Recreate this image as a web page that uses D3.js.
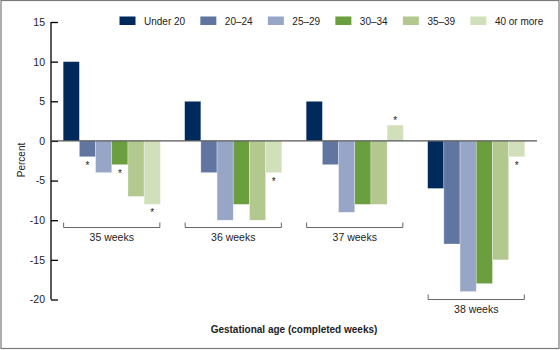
<!DOCTYPE html>
<html>
<head>
<meta charset="utf-8">
<script src="https://cdn.jsdelivr.net/npm/d3@7"></script>
<style>
  body { margin: 0; background: #fff; }
  svg text { font-family: "Liberation Sans", Arial, sans-serif; }
</style>
</head>
<body>
<div id="chart"></div>
<script>
// Data
const weeks = ["35 weeks", "36 weeks", "37 weeks", "38 weeks"];
const ageGroups = ["Under 20", "20\u201324", "25\u201329", "30\u201334", "35\u201339", "40 or more"];
const colors = ["#002a5c", "#6076a1", "#97a6c6", "#6b9e3e", "#b2c88e", "#d1dfbb"];
// percent change, one row per gestational week, columns follow ageGroups
const values = [
  [10, -2, -4, -3, -7, -8],
  [5, -4, -10, -8, -10, -4],
  [5, -3, -9, -8, -8, 2],
  [-6, -13, -19, -18, -15, -2]
];
// bars flagged with an asterisk
const starred = [
  [false, true, false, true, false, true],
  [false, false, false, false, false, true],
  [false, false, false, false, false, true],
  [false, false, false, false, false, true]
];
const yTicks = [15, 10, 5, 0, -5, -10, -15, -20];
// value at which each bracket sits
const bracketLevel = [-10, -10, -10, -19];

const W = 560, H = 350;
const svg = d3.select("#chart").append("svg")
  .attr("width", W).attr("height", H);

// frame
svg.append("rect")
  .attr("x", 1).attr("y", 0.5).attr("width", W - 2).attr("height", H - 2)
  .attr("fill", "none").attr("stroke", "#7a7a7a").attr("stroke-width", 1.2);

const left = 51, right = 537;
const y = d3.scaleLinear().domain([-20, 15]).range([299.5, 22]);
const x0 = d3.scaleBand().domain(weeks).range([left, right])
  .paddingInner(0.2).paddingOuter(0.1);
const x1 = d3.scaleBand().domain(ageGroups).range([0, x0.bandwidth()]);

// y axis
const yAxis = d3.axisRight(y).tickValues(yTicks).tickSize(7).tickFormat(d3.format("d"));
const ga = svg.append("g").attr("transform", `translate(${left},0)`).call(yAxis);
ga.select(".domain").attr("d", `M0,${y(15)}V${y(-20)}`).attr("stroke", "#000").attr("stroke-width", 1.3);
ga.selectAll(".tick line").attr("stroke", "#000").attr("stroke-width", 1.3);
ga.selectAll(".tick text")
  .attr("x", -6).attr("text-anchor", "end")
  .attr("font-size", 10.5).attr("fill", "#222")
  .text(d => d < 0 ? "-" + Math.abs(d) : d);

svg.append("text")
  .attr("transform", `translate(25,160) rotate(-90)`)
  .attr("text-anchor", "middle").attr("font-size", 10).attr("fill", "#222")
  .text("Percent");

// bars
const groups = svg.selectAll(".grp").data(weeks).enter().append("g")
  .attr("class", "grp")
  .attr("transform", d => `translate(${x0(d)},0)`);

groups.selectAll("rect")
  .data((w, i) => values[i].map((v, j) => ({ v: v, j: j, star: starred[i][j] })))
  .enter().append("rect")
  .attr("x", d => x1(ageGroups[d.j]))
  .attr("y", d => y(Math.max(0, d.v)))
  .attr("width", x1.bandwidth())
  .attr("height", d => Math.abs(y(d.v) - y(0)))
  .attr("fill", d => colors[d.j])
  .attr("stroke", "#fff").attr("stroke-opacity", 0.5).attr("stroke-width", 0.6);

groups.selectAll(".star")
  .data((w, i) => values[i].map((v, j) => ({ v: v, j: j, star: starred[i][j] })).filter(d => d.star))
  .enter().append("text")
  .attr("class", "star")
  .attr("x", d => x1(ageGroups[d.j]) + x1.bandwidth() / 2)
  .attr("y", d => d.v < 0 ? y(d.v) + 12 : y(d.v) - 1)
  .attr("text-anchor", "middle").attr("font-size", 10).attr("fill", "#222")
  .text("*");

// zero line
svg.append("line")
  .attr("x1", left).attr("x2", right)
  .attr("y1", y(0)).attr("y2", y(0))
  .attr("stroke", "#555").attr("stroke-width", 1.3);

// brackets + week labels
groups.each(function (w, i) {
  const g = d3.select(this);
  const by = Math.round(y(bracketLevel[i])) + 7.5;
  const bw = x0.bandwidth();
  g.append("path")
    .attr("d", `M0.5,${by - 5}V${by}H${bw - 0.5}V${by - 5}`)
    .attr("fill", "none").attr("stroke", "#666").attr("stroke-width", 1);
  g.append("text")
    .attr("x", bw / 2).attr("y", by + 13.5)
    .attr("text-anchor", "middle").attr("font-size", 10.5).attr("fill", "#222")
    .text(w);
});

// x title
svg.append("text")
  .attr("x", 294).attr("y", 333)
  .attr("text-anchor", "middle").attr("font-size", 10).attr("font-weight", "bold").attr("fill", "#222")
  .text("Gestational age (completed weeks)");

// legend
const legend = svg.append("g").attr("transform", "translate(119.5,0)");
let lx = 0;
ageGroups.forEach((name, i) => {
  const item = legend.append("g").attr("transform", `translate(${lx},0)`);
  item.append("rect")
    .attr("x", 0).attr("y", 16.5).attr("width", 16).attr("height", 8.5)
    .attr("fill", colors[i]);
  const t = item.append("text")
    .attr("x", 24.5).attr("y", 24.5)
    .attr("font-size", 10).attr("fill", "#222")
    .text(name);
  lx += 24.5 + t.node().getComputedTextLength() + 15.2;
});
</script>
</body>
</html>
